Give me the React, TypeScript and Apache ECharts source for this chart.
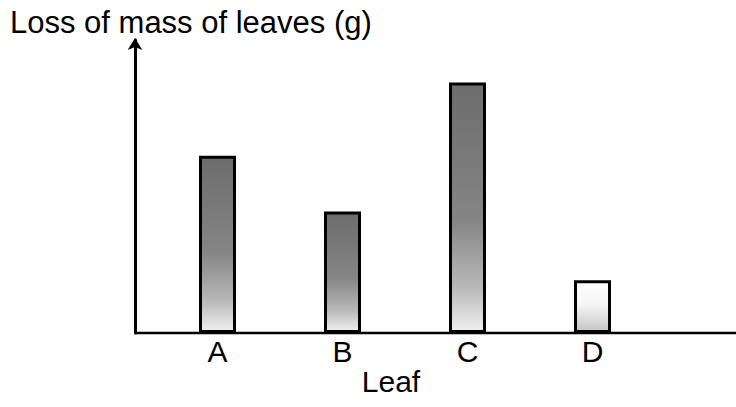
import React, { useEffect, useRef } from "react";
import * as echarts from "echarts";

const categories = ["A", "B", "C", "D"];
const lossValues = [6.05, 4.15, 8.55, 1.8];
const yMax = 10;
const titleText = "Loss of mass of leaves (g)";
const xName = "Leaf";

const FONT = "'Liberation Sans', Arial, Helvetica, sans-serif";

const darkFill = {
  type: "linear", x: 0, y: 0, x2: 0, y2: 1,
  colorStops: [
    { offset: 0, color: "#6c6c6c" },
    { offset: 0.55, color: "#858585" },
    { offset: 0.82, color: "#b8b8b8" },
    { offset: 1, color: "#f0f0f0" },
  ],
};
const lightFill = {
  type: "linear", x: 0, y: 0, x2: 0, y2: 1,
  colorStops: [
    { offset: 0, color: "#ffffff" },
    { offset: 0.45, color: "#f6f6f6" },
    { offset: 1, color: "#c4c4c4" },
  ],
};

export default function App() {
  const ref = useRef<HTMLDivElement>(null);
  useEffect(() => {
    if (!ref.current) return;
    const chart = echarts.init(ref.current, null, { renderer: "svg" });
    chart.setOption({
      animation: false,
      backgroundColor: "#ffffff",
      grid: { left: 155, right: 81, top: 40, bottom: 74, containLabel: false },
      xAxis: {
        type: "category",
        data: categories,
        axisLine: { show: false },
        axisTick: { show: false },
        axisLabel: { color: "#000", fontFamily: FONT, fontSize: 30, margin: 3 },
        splitLine: { show: false },
      },
      yAxis: {
        type: "value",
        min: 0,
        max: yMax,
        offset: 20,
        axisLine: {
          show: true,
          onZero: false,
          symbol: ["none", "arrow"],
          symbolSize: [11, 12],
          symbolOffset: [0, 2],
          lineStyle: { color: "#000", width: 3 },
        },
        axisTick: { show: false },
        axisLabel: { show: false },
        splitLine: { show: false },
      },
      graphic: [
        {
          type: "line",
          shape: { x1: 135, y1: 333, x2: 736, y2: 333 },
          style: { stroke: "#000", lineWidth: 2.5 },
          z: 10,
        },
        {
          type: "text",
          x: 10,
          y: 22,
          style: {
            text: titleText,
            fill: "#000",
            font: `31px ${FONT}`,
            verticalAlign: "middle",
            align: "left",
          },
        },
        {
          type: "text",
          x: 391,
          y: 381,
          style: {
            text: xName,
            fill: "#000",
            font: `30px ${FONT}`,
            verticalAlign: "middle",
            align: "center",
          },
        },
      ],
      series: [
        {
          type: "bar",
          barWidth: 37,
          data: lossValues.map((v, i) => ({
            value: v,
            itemStyle: {
              color: i === 3 ? lightFill : darkFill,
              borderColor: "#000",
              borderWidth: 3,
            },
          })),
        },
      ],
    });
    return () => chart.dispose();
  }, []);
  return <div ref={ref} style={{ width: 736, height: 407, position: "absolute", left: 0, top: 0 }} />;
}
